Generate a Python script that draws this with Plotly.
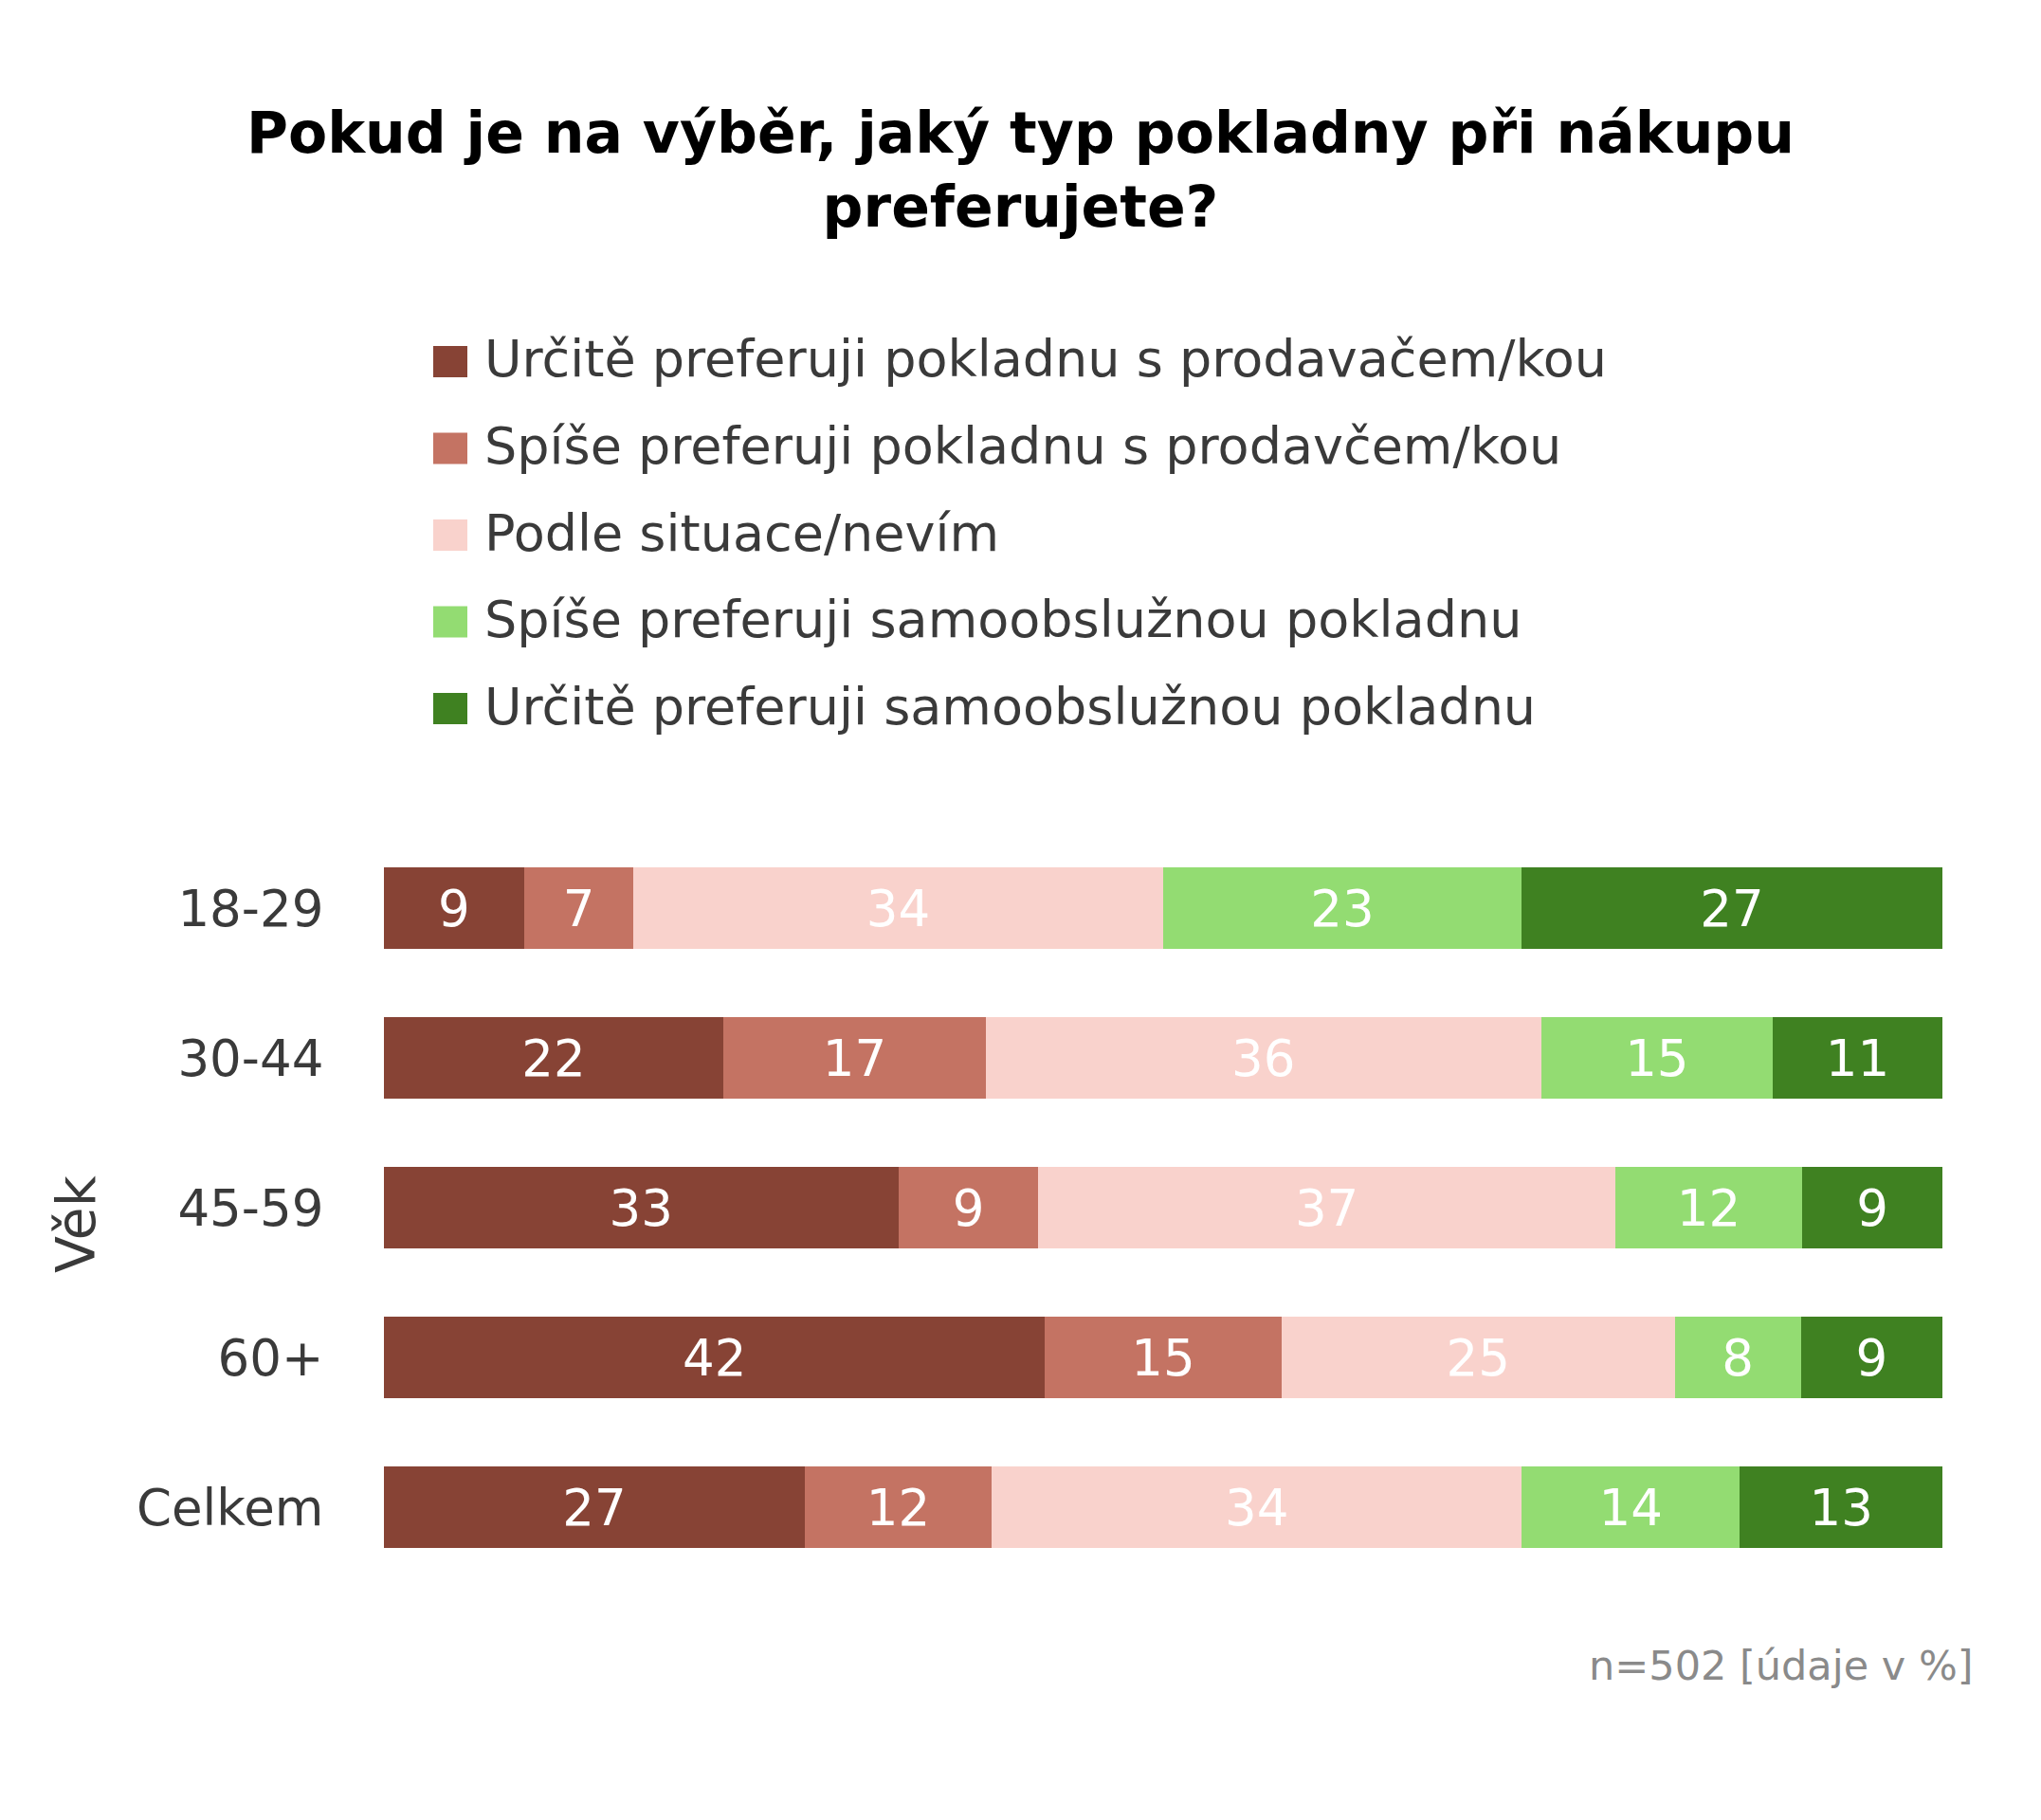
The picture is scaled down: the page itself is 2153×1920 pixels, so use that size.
import plotly.graph_objects as go

# ---- data ----
categories = ["18-29", "30-44", "45-59", "60+", "Celkem"]
series_names = [
    "Určitě preferuji pokladnu s prodavačem/kou",
    "Spíše preferuji pokladnu s prodavčem/kou",
    "Podle situace/nevím",
    "Spíše preferuji samoobslužnou pokladnu",
    "Určitě preferuji samoobslužnou pokladnu",
]
urcite_prodavac = [9, 22, 33, 42, 27]
spise_prodavac = [7, 17, 9, 15, 12]
podle_situace = [34, 36, 37, 25, 34]
spise_samo = [23, 15, 12, 8, 14]
urcite_samo = [27, 11, 9, 9, 13]
series_values = [urcite_prodavac, spise_prodavac, podle_situace, spise_samo, urcite_samo]
colors = ["#874335", "#C47363", "#F9D2CC", "#93DC72", "#3F8121"]

title_text = "Pokud je na výběr, jaký typ pokladny při nákupu<br>preferujete?"
axis_title = "Věk"
footnote = "n=502 [údaje v %]"

# ---- layout geometry (pixels) ----
W, H = 2153, 1920
PL, PR, PT, PB = 405, 2049, 879, 1669
FONT = "DejaVu Sans"


def px_x(px):
    return (px - PL) / (PR - PL)


def px_y(py):
    return (PB - py) / (PB - PT)


fig = go.Figure()
for name, vals, col in zip(series_names, series_values, colors):
    fig.add_trace(go.Bar(
        y=categories,
        x=vals,
        name=name,
        orientation="h",
        marker=dict(color=col, line=dict(width=0)),
        text=[str(v) for v in vals],
        texttemplate="%{text}",
        textposition="inside",
        insidetextanchor="middle",
        textfont=dict(family=FONT, size=53, color="white"),
        showlegend=False,
        hoverinfo="skip",
    ))

shapes = []
annotations = []
legend_centers = [381, 472.5, 564, 655.5, 747]
for name, col, c in zip(series_names, colors, legend_centers):
    shapes.append(dict(
        type="rect", xref="paper", yref="paper",
        x0=px_x(457), x1=px_x(493), y0=px_y(c + 17), y1=px_y(c - 16),
        fillcolor=col, line=dict(width=0),
    ))
    annotations.append(dict(
        x=px_x(509), y=px_y(c - 2), xref="paper", yref="paper",
        xanchor="left", yanchor="middle", showarrow=False,
        text=name, font=dict(family=FONT, size=54, color="#3a3a3a"),
    ))

annotations.append(dict(
    x=px_x(80), y=px_y(1292), xref="paper", yref="paper",
    xanchor="center", yanchor="middle", showarrow=False, textangle=-90,
    text=axis_title, font=dict(family=FONT, size=57, color="#3a3a3a"),
))
annotations.append(dict(
    x=px_x(2084), y=px_y(1757), xref="paper", yref="paper",
    xanchor="right", yanchor="middle", showarrow=False,
    text=footnote, font=dict(family=FONT, size=43, color="#8a8a8a"),
))

fig.update_layout(
    width=W, height=H,
    margin=dict(l=PL, r=W - PR, t=PT, b=H - PB, pad=0),
    paper_bgcolor="white", plot_bgcolor="white",
    barmode="stack", barnorm="percent",
    bargap=0.456,
    title=dict(
        text=title_text, x=0.5, xanchor="center", xref="container",
        y=1 - 161 / H, yanchor="middle", yref="container",
        font=dict(family=FONT, size=60, color="black", weight=700),
    ),
    xaxis=dict(range=[0, 100], visible=False, showgrid=False, zeroline=False, fixedrange=True),
    yaxis=dict(
        categoryorder="array", categoryarray=categories, autorange="reversed",
        showgrid=False, zeroline=False, showline=False,
        ticks="outside", ticklen=52, tickcolor="rgba(0,0,0,0)",
        tickfont=dict(family=FONT, size=53, color="#3a3a3a"),
    ),
    uniformtext=dict(mode="show", minsize=53),
    shapes=shapes,
    annotations=annotations,
    showlegend=False,
)

fig.write_html("out.html")
